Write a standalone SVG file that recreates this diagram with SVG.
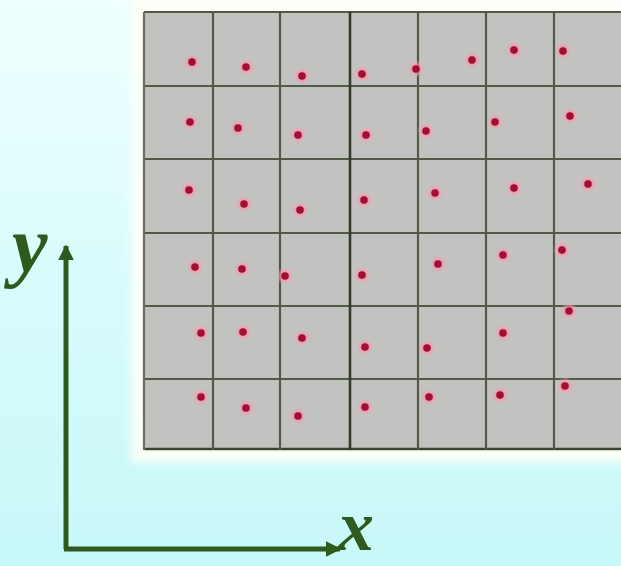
<svg xmlns="http://www.w3.org/2000/svg" width="621" height="566" viewBox="0 0 621 566">
<defs>
<linearGradient id="bg" x1="0" y1="0" x2="0" y2="1">
<stop offset="0" stop-color="#f0ffff"/>
<stop offset="0.5" stop-color="#d8fbfb"/>
<stop offset="1" stop-color="#c8f8f8"/>
</linearGradient>
<filter id="blur" x="-10%" y="-10%" width="120%" height="120%"><feGaussianBlur stdDeviation="5"/></filter>
<radialGradient id="halo">
<stop offset="0" stop-color="#ff4070" stop-opacity="1"/>
<stop offset="0.45" stop-color="#f890a8" stop-opacity="0.8"/>
<stop offset="1" stop-color="#f0b0c0" stop-opacity="0"/>
</radialGradient>
<g id="dot"><circle r="9" fill="url(#halo)"/><circle r="3.8" fill="#a01035"/></g>
<marker id="arr" viewBox="0 0 10 10" refX="9" refY="5" markerWidth="3.2" markerHeight="3.2" orient="auto" markerUnits="strokeWidth"><path d="M0,0 L10,5 L0,10 Z" fill="#2e5a1e"/></marker>
</defs>
<style>
.grid line{stroke:#505a44;stroke-width:2.2}
.axis{stroke:#2e5a1e;stroke-width:5;fill:none;stroke-linecap:butt}
.lbl{font-family:"Liberation Serif",serif;font-style:italic;font-weight:bold;font-size:80px;fill:#2e5a1e}
</style>
<rect width="621" height="566" fill="url(#bg)"/>
<rect x="132" y="-10" width="500" height="472" fill="#fdfff8" filter="url(#blur)"/>
<g id="panel">
<rect x="144" y="12" width="480" height="438" fill="#c2c2c0"/>
<g class="grid">
<line x1="144" y1="12" x2="621" y2="12"/>
<line x1="144" y1="86" x2="621" y2="86"/>
<line x1="144" y1="159" x2="621" y2="159"/>
<line x1="144" y1="233" x2="621" y2="233"/>
<line x1="144" y1="306" x2="621" y2="306"/>
<line x1="144" y1="379" x2="621" y2="379"/>
<line x1="144" y1="449" x2="621" y2="449" style="stroke:#3c4434;stroke-width:2.5"/>
<line x1="144" y1="12" x2="144" y2="450" style="stroke:#6a7060"/>
<line x1="213" y1="12" x2="213" y2="450"/>
<line x1="280" y1="12" x2="280" y2="450"/>
<line x1="350" y1="12" x2="350" y2="450" style="stroke:#323c2a;stroke-width:2.6"/>
<line x1="418" y1="12" x2="418" y2="450"/>
<line x1="486" y1="12" x2="486" y2="450"/>
<line x1="554" y1="12" x2="554" y2="450"/>
</g>
</g>
<g id="points">
<use href="#dot" x="192" y="62"/><use href="#dot" x="246" y="67"/><use href="#dot" x="302" y="76"/><use href="#dot" x="362" y="74"/><use href="#dot" x="416" y="69"/><use href="#dot" x="472" y="60"/><use href="#dot" x="514" y="50"/><use href="#dot" x="563" y="51"/>
<use href="#dot" x="190" y="122"/><use href="#dot" x="238" y="128"/><use href="#dot" x="298" y="135"/><use href="#dot" x="366" y="135"/><use href="#dot" x="426" y="131"/><use href="#dot" x="495" y="122"/><use href="#dot" x="570" y="116"/>
<use href="#dot" x="189" y="190"/><use href="#dot" x="244" y="204"/><use href="#dot" x="300" y="210"/><use href="#dot" x="364" y="200"/><use href="#dot" x="435" y="193"/><use href="#dot" x="514" y="188"/><use href="#dot" x="588" y="184"/>
<use href="#dot" x="195" y="267"/><use href="#dot" x="242" y="269"/><use href="#dot" x="285" y="276"/><use href="#dot" x="362" y="275"/><use href="#dot" x="438" y="264"/><use href="#dot" x="503" y="255"/><use href="#dot" x="562" y="250"/>
<use href="#dot" x="201" y="333"/><use href="#dot" x="243" y="332"/><use href="#dot" x="302" y="338"/><use href="#dot" x="365" y="347"/><use href="#dot" x="427" y="348"/><use href="#dot" x="503" y="333"/><use href="#dot" x="569" y="311"/>
<use href="#dot" x="201" y="397"/><use href="#dot" x="246" y="408"/><use href="#dot" x="298" y="416"/><use href="#dot" x="365" y="407"/><use href="#dot" x="429" y="397"/><use href="#dot" x="500" y="395"/><use href="#dot" x="565" y="386"/>
</g>
<g id="connectors">
<path class="axis" d="M66,549 L66,246" marker-end="url(#arr)"/>
<path class="axis" d="M64,549 L340,549" marker-end="url(#arr)"/>
</g>
<g id="label-y"><text class="lbl" x="12" y="272">y</text></g>
<g id="label-x"><text class="lbl" x="338" y="550" style="font-size:72px">x</text></g>
</svg>
